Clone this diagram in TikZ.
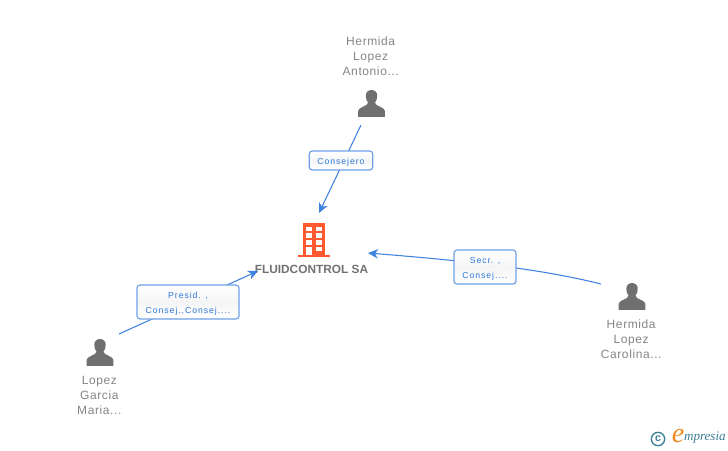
\documentclass[tikz,border=0pt]{standalone}
\usepackage{fontspec}
\setmainfont{Liberation Sans}
\newfontfamily\namefont[LetterSpace=5]{Liberation Sans}
\newfontfamily\linkfont[LetterSpace=11]{Liberation Sans}
\newfontfamily\logofont{Liberation Serif}
\usepackage{xcolor}
\usepackage{tikz}
\usetikzlibrary{positioning, arrows.meta, calc}
\definecolor{edgeblue}{HTML}{3F83E0}
\definecolor{boxblue}{HTML}{6FA0E6}
\definecolor{linktext}{HTML}{2F78DC}
\definecolor{persongray}{HTML}{6F6F6F}
\definecolor{textgray}{HTML}{858585}
\definecolor{towerred}{HTML}{FF5A30}
\definecolor{logoteal}{HTML}{3A7F96}
\definecolor{logoorange}{HTML}{F08A1E}
\newcommand{\linkline}[1]{\raisebox{-1.5pt}[5pt][1.5pt]{#1}}
\tikzset{
  edge/.style={draw=edgeblue, line width=0.8pt, -{Stealth[length=7.5pt, width=7pt, inset=2.2pt]}},
  linkbox/.style={draw=boxblue, line width=0.9pt, rounded corners=2.2pt, top color=white, bottom color=white, middle color=white!96!black,
    font=\linkfont\fontsize{6.5}{11.25}\selectfont, text=linktext, align=center, inner sep=0pt},
  personlabel/.style={font=\namefont\fontsize{9}{11.25}\selectfont, text=textgray, align=center, inner sep=0pt},
  personicon/.style={minimum width=20.25pt, minimum height=20.25pt, inner sep=0pt, path picture={
    \fill[persongray, shift={(path picture bounding box.center)}]
      (-2.6pt,0.6pt) .. controls (-3.6pt,2pt) and (-4.3pt,3.5pt) .. (-4.3pt,5.8pt)
      .. controls (-4.3pt,8.6pt) and (-2.4pt,10.1pt) .. (0pt,10.1pt)
      .. controls (2.4pt,10.1pt) and (4.3pt,8.6pt) .. (4.3pt,5.8pt)
      .. controls (4.3pt,3.5pt) and (3.6pt,2pt) .. (2.6pt,0.6pt)
      .. controls (2.8pt,-2.2pt) and (9.6pt,-2.4pt) .. (10.1pt,-5.6pt)
      -- (10.1pt,-10.1pt) -- (-10.1pt,-10.1pt) -- (-10.1pt,-5.6pt)
      .. controls (-9.6pt,-2.4pt) and (-2.8pt,-2.2pt) .. cycle;
  }},
}
\begin{document}
\begin{tikzpicture}[x=0.75pt, y=-0.75pt]
\useasboundingbox (0,0) rectangle (728,450);
% people
\node[personicon](antonio) at (371.5,103.5){};
\node[personicon](maria) at (100,352.5){};
\node[personicon](carolina) at (632,296.5){};
\node[personlabel, above = 10.7pt of antonio, xshift=-0.6pt]{Hermida\\Lopez\\Antonio...};
\node[personlabel, below = 7pt of maria, xshift=-0.5pt]{Lopez\\Garcia\\Maria...};
\node[personlabel, below = 7pt of carolina, xshift=-0.6pt]{Hermida\\Lopez\\Carolina...};
% company
\coordinate (tower) at (314,240);
\fill[towerred] ($(tower)+(-11,-17)$) rectangle ($(tower)+(11,15)$);
\fill[towerred] ($(tower)+(-16,15)$) rectangle ($(tower)+(16,17)$);
\foreach \col in {-5,5}{
  \foreach \row in {-11.3,-4.5,2.5}{
    \fill[white] ($(tower)+(\col,\row)+(-2.6,-2.2)$) rectangle ($(tower)+(\col,\row)+(2.6,2.2)$);
  }
}
\fill[white] ($(tower)+(-7.6,7)$) rectangle ($(tower)+(-2.4,15)$);
\fill[white] ($(tower)+(2.4,7)$) rectangle ($(tower)+(7.6,11.2)$);
\node[font=\bfseries\fontsize{8.9}{11}\selectfont, text=textgray!85!black, inner sep=0pt](company) at (311.5,269){FLUIDCONTROL SA};
% links
\coordinate (antonioout) at (361,125);
\coordinate (towertop) at (319,213);
\coordinate (mariaout) at (119,334);
\coordinate (companyleft) at (258,271);
\coordinate (carolinaout) at (601,284);
\coordinate (towerright) at (368,253);
\draw[edge] (antonioout) -- (towertop);
\draw[edge] (mariaout) -- (companyleft);
\draw[edge] (carolinaout) .. controls (545,270) and (480,262) .. (towerright);
\node[linkbox, minimum width=47.5pt, minimum height=14.25pt](consejero) at (341,160.5){\rule{0pt}{7.4pt}Consejero};
\node[linkbox, minimum width=76.5pt, minimum height=25.5pt](presid) at (188,302){\linkline{Presid. ,}\\\linkline{Consej.,Consej....}};
\node[linkbox, minimum width=46.5pt, minimum height=25.5pt](secr) at (485,267){\linkline{Secr. ,}\\\linkline{Consej....}};
% logo
\node[draw=logoteal, line width=1pt, circle, minimum size=10pt, inner sep=0pt, font=\fontsize{8}{8}\selectfont\bfseries, text=logoteal](copyright) at (658,439){c};
\node[font=\logofont\itshape\fontsize{21}{21}\selectfont, text=logoorange, inner sep=0pt](logoe) at (678,436){e};
\node[right = 0pt of logoe, xshift=-0.5pt, yshift=-1.2pt, font=\logofont\itshape\fontsize{9.8}{11}\selectfont, text=logoteal, inner sep=0pt](logotext){mpresia};
\end{tikzpicture}
\end{document}
